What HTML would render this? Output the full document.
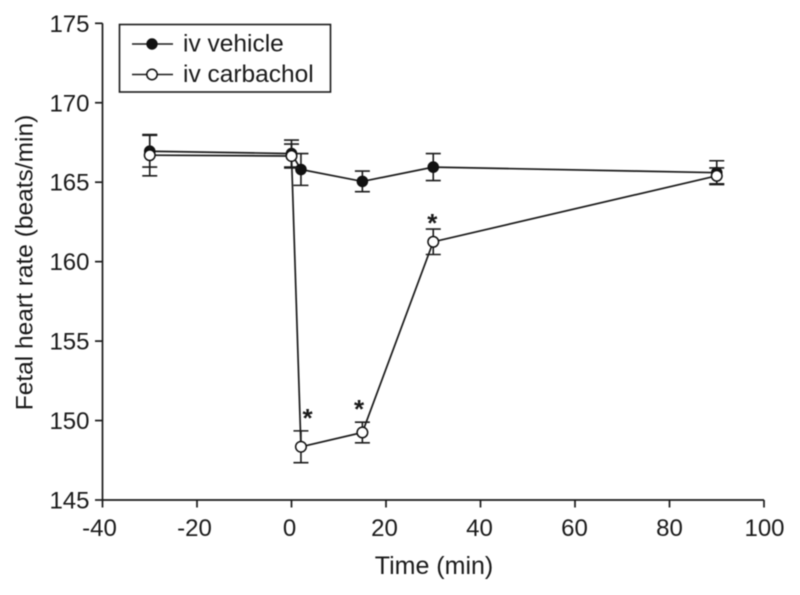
<!DOCTYPE html>
<html>
<head>
<meta charset="utf-8">
<style>
html,body{margin:0;padding:0;background:#fff;}
svg{display:block;filter:blur(0.4px);}
text{font-family:"Liberation Sans",sans-serif;fill:#1a1a1a;}
</style>
</head>
<body>
<svg id="chart" xmlns="http://www.w3.org/2000/svg" width="800" height="595" viewBox="0 0 800 595">
<g id="axes"></g>
<g id="series"></g>
<g id="legend">
<rect x="119.5" y="24.5" width="211" height="67.500" fill="#fff" stroke="#1a1a1a" stroke-width="1.6"/>
<line x1="132" y1="44" x2="173" y2="44" stroke="#1a1a1a" stroke-width="1.6"/>
<circle cx="152" cy="44" r="5.2" fill="#111" stroke="#111" stroke-width="1"/>
<text x="183" y="51.500" font-size="24.500">iv vehicle</text>
<line x1="132" y1="74.500" x2="173" y2="74.500" stroke="#1a1a1a" stroke-width="1.6"/>
<circle cx="152" cy="74.500" r="5.200" fill="#fff" stroke="#111" stroke-width="1.500"/>
<text x="183" y="82" font-size="24.500">iv carbachol</text>
</g>
</svg>
<script>
const times = [-30, 0, 2, 15, 30, 90];
const vehicleValues = [166.95, 166.8, 165.8, 165.05, 165.95, 165.6];
const vehicleErrors = [1.0, 0.85, 1.0, 0.65, 0.85, 0.75];
const carbacholValues = [166.7, 166.65, 148.35, 149.25, 161.25, 165.4];
const carbacholErrors = [1.3, 0.75, 1.0, 0.65, 0.8, 0.5];
const xTicks = [-40, -20, 0, 20, 40, 60, 80, 100];
const yTicks = [145, 150, 155, 160, 165, 170, 175];
const starTimes = [3.4, 14.3, 29.8];
const starValues = [150.35, 150.93, 162.62];

const NS = 'http://www.w3.org/2000/svg';
const xScale = function (v) { return 102.5 + (v + 40) * 4.725; };
const xLabelScale = function (v) { return 289.5 + v * 4.75; };
const yScale = function (v) { return 500 - (v - 145) * 15.89; };
const ink = '#1a1a1a';

function make(parent, tag, attrs, content) {
  const el = document.createElementNS(NS, tag);
  for (const k in attrs) el.setAttribute(k, attrs[k]);
  if (content !== undefined) el.textContent = content;
  parent.appendChild(el);
  return el;
}

const axes = document.getElementById('axes');
const series = document.getElementById('series');

const xAxisLine = make(axes, 'line', {x1: xScale(-40), y1: yScale(145), x2: xScale(100), y2: yScale(145), stroke: ink, 'stroke-width': 1.7});


const yAxisLine = make(axes, 'line', {x1: xScale(-40), y1: yScale(145), x2: xScale(-40), y2: yScale(175), stroke: ink, 'stroke-width': 1.7});



xTicks.forEach(function (t) {
  const tick = make(axes, 'line', {x1: xScale(t), y1: yScale(145), x2: xScale(t), y2: yScale(145) + 7.5, stroke: ink, 'stroke-width': 1.7});
  
  
  const label = make(axes, 'text', {x: xLabelScale(t), y: 536, 'font-size': 24, 'text-anchor': 'middle'}, String(t));
  
  
});

yTicks.forEach(function (t) {
  const tick = make(axes, 'line', {x1: xScale(-40) - 7.5, y1: yScale(t), x2: xScale(-40), y2: yScale(t), stroke: ink, 'stroke-width': 1.7});
  
  
  const label = make(axes, 'text', {x: 89.5, y: yScale(t) + 8.5, 'font-size': 24, 'text-anchor': 'end'}, String(t));
  
  
});

const xTitle = make(axes, 'text', {x: 434, y: 574, 'font-size': 25, 'text-anchor': 'middle'}, 'Time (min)');


const yTitle = make(axes, 'text', {x: 0, y: 0, 'font-size': 24.5, 'text-anchor': 'middle', transform: 'translate(32.5 262.5) rotate(-90)'}, 'Fetal heart rate (beats/min)');



function drawSeries(values, errors, fill, strokeWidth) {
  const pts = values.map(function (v, i) { return xScale(times[i]) + ',' + yScale(v); }).join(' ');
  const line = make(series, 'polyline', {points: pts, fill: 'none', stroke: ink, 'stroke-width': 1.7});
  
  
  values.forEach(function (v, i) {
    const x = xScale(times[i]);
    const top = yScale(v + errors[i]);
    const bottom = yScale(v - errors[i]);
    const bar = make(series, 'path', {
      d: 'M' + x + ' ' + top + 'V' + bottom + 'M' + (x - 7.5) + ' ' + top + 'H' + (x + 7.5) + 'M' + (x - 7.5) + ' ' + bottom + 'H' + (x + 7.5),
      fill: 'none', stroke: ink, 'stroke-width': 1.6
    });
    
    
  });
  values.forEach(function (v, i) {
    const point = make(series, 'circle', {cx: xScale(times[i]), cy: yScale(v), r: 5.3, fill: fill, stroke: '#111', 'stroke-width': strokeWidth});
    
    
  });
}

drawSeries(vehicleValues, vehicleErrors, '#111', 1);
drawSeries(carbacholValues, carbacholErrors, '#fff', 1.5);

starTimes.forEach(function (t, i) {
  const star = make(series, 'text', {x: xScale(t), y: yScale(starValues[i]) + 12, 'font-size': 26, 'font-weight': 'bold', 'text-anchor': 'middle'}, '*');
  
  
});
</script>
</body>
</html>
